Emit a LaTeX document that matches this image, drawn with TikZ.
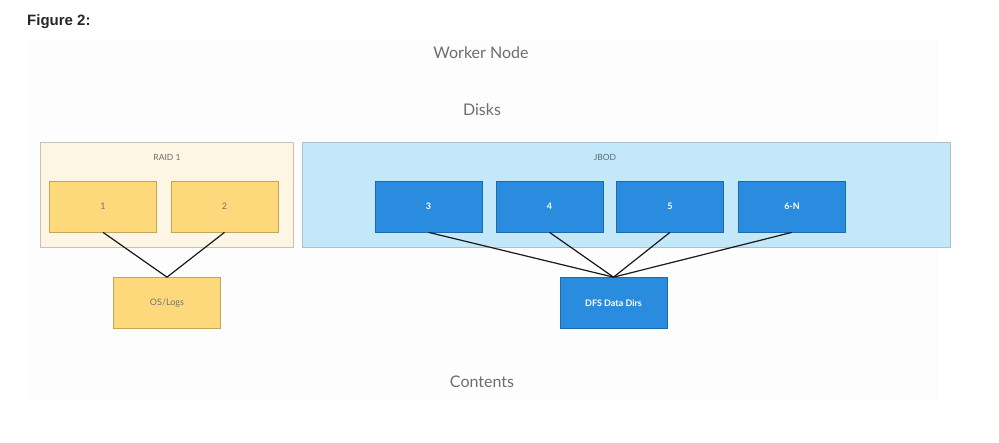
\documentclass[tikz,border=0pt]{standalone}
\usepackage{fontspec}
\setmainfont{Liberation Sans}
\newfontfamily\labfont{Lato}
\definecolor{raidfill}{HTML}{FDF6E4}
\definecolor{raidedge}{HTML}{C9C2B0}
\definecolor{yel}{HTML}{FDD97C}
\definecolor{yeledge}{HTML}{C4A65A}
\definecolor{jbodfill}{HTML}{C3E8F9}
\definecolor{jbodedge}{HTML}{A9C2CC}
\definecolor{blu}{HTML}{2A8CDF}
\definecolor{bluedge}{HTML}{1D6BAE}
\definecolor{txtgray}{HTML}{6E6E6E}
\begin{document}
\begin{tikzpicture}[x=1pt,y=-1pt,
  groupbox/.style={draw, line width=0.8pt, anchor=north west, inner sep=0pt},
  ydisk/.style={draw=yeledge, fill=yel, line width=0.7pt, minimum width=107pt, minimum height=51pt, inner sep=0pt, font=\labfont\fontsize{9}{10}\selectfont, text=black!55},
  bdisk/.style={draw=bluedge, fill=blu, line width=0.7pt, minimum width=107pt, minimum height=51pt, inner sep=0pt, font=\labfont\bfseries\fontsize{9}{10}\selectfont, text=white},
  title/.style={font=\labfont\fontsize{16}{18}\selectfont, text=txtgray},
  small/.style={font=\labfont\fontsize{8.5}{10}\selectfont, text=txtgray},
  link/.style={line width=1.2pt, black!90}
]
\useasboundingbox (0,0) rectangle (999,442);
\fill[white] (0,0) rectangle (999,442);
\fill[black!0.8] (27,40) rectangle (938,400);
\node[anchor=west, inner sep=0pt, font=\bfseries\fontsize{15}{17}\selectfont, text=black!85] (fig) at (27,22) {Figure 2:};
\node[title] (worker) at (481,53) {Worker Node};
\node[title] (disks) at (482,110) {Disks};
\node[title] (contents) at (482,382) {Contents};
% RAID group
\node[groupbox, draw=raidedge, fill=raidfill, minimum width=253pt, minimum height=105pt] (raid) at (40,142) {};
\node[small] (raidlab) at (167,157) {RAID 1};
\node[ydisk] (d1) at (103,206.5) {1};
\node[ydisk] (d2) at (224.5,206.5) {2};
\node[ydisk] (os) at (167,303) {OS/Logs};
% JBOD group
\node[groupbox, draw=jbodedge, fill=jbodfill, minimum width=648pt, minimum height=105pt] (jbod) at (302,142) {};
\node[small, text=black!45!jbodedge] (jbodlab) at (605,157) {JBOD};
\node[bdisk] (d3) at (428.5,206.5) {3};
\node[bdisk] (d4) at (549.5,206.5) {4};
\node[bdisk] (d5) at (670,206.5) {5};
\node[bdisk] (d6) at (792,206.5) {6-N};
\node[bdisk] (dfs) at (613.5,303) {DFS Data Dirs};
% connectors
\draw[link] (d1.south) -- (os.north);
\draw[link] (d2.south) -- (os.north);
\draw[link] (d3.south) -- (dfs.north);
\draw[link] (d4.south) -- (dfs.north);
\draw[link] (d5.south) -- (dfs.north);
\draw[link] (d6.south) -- (dfs.north);
\end{tikzpicture}
\end{document}
